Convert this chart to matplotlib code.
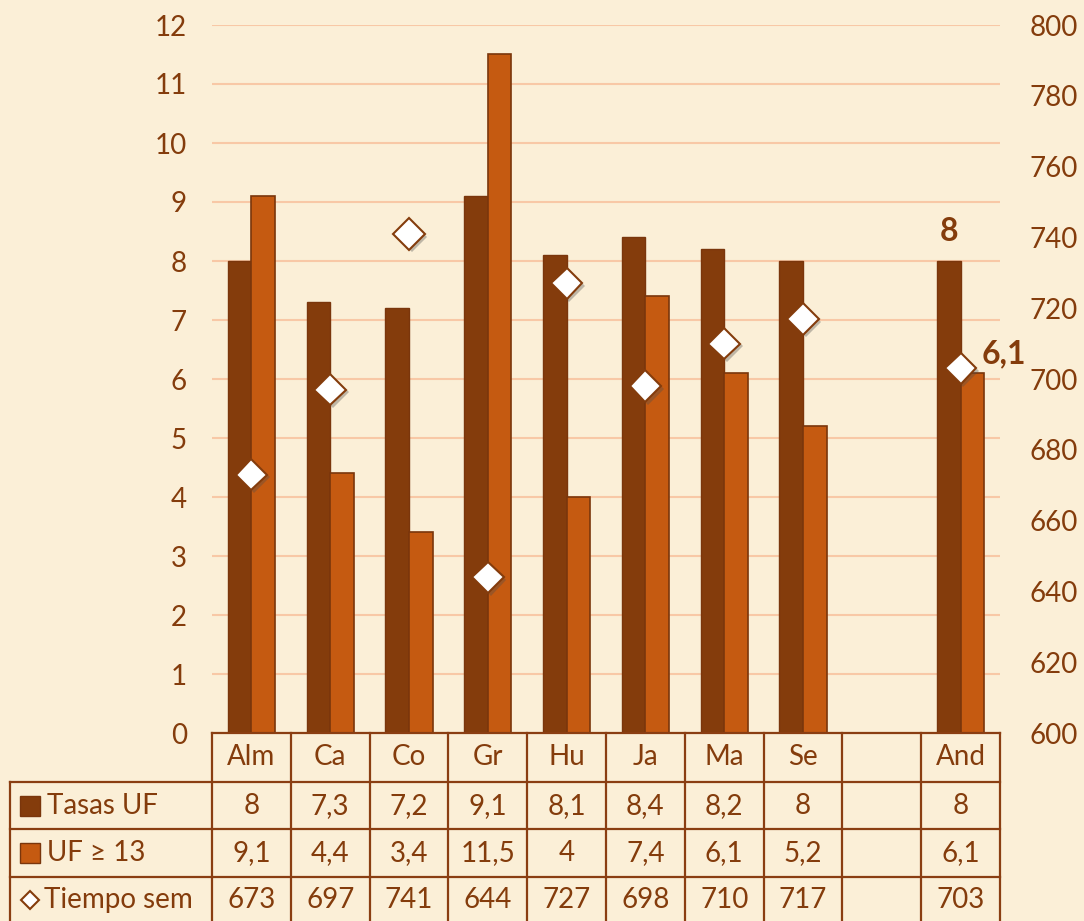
import numpy as np
import matplotlib.pyplot as plt
import matplotlib.patheffects as pe
from matplotlib import transforms
from matplotlib.lines import Line2D

plt.rcParams['font.family'] = ['Lato', 'DejaVu Sans']

# data
categories = ['Alm', 'Ca', 'Co', 'Gr', 'Hu', 'Ja', 'Ma', 'Se', '', 'And']
tasas_uf = [8, 7.3, 7.2, 9.1, 8.1, 8.4, 8.2, 8, np.nan, 8]
uf_13 = [9.1, 4.4, 3.4, 11.5, 4, 7.4, 6.1, 5.2, np.nan, 6.1]
tiempo_sem = [673, 697, 741, 644, 727, 698, 710, 717, np.nan, 703]
row_names = ['Tasas UF', 'UF ≥ 13', 'Tiempo sem']

dark = '#843C0C'
orange = '#C55A11'
edge = '#7A360C'
txt = '#843C0C'
grid_c = '#F8C8A6'
bg = '#FBEFD7'


def fmt(v):
    if np.isnan(v):
        return ''
    if float(v).is_integer():
        return str(int(v))
    return f'{v:.1f}'.replace('.', ',')


W, H = 1084, 921
fig = plt.figure(figsize=(W / 100, H / 100), dpi=100)
fig.patch.set_facecolor(bg)

ax = fig.add_axes([212 / W, 1 - 733 / H, 788 / W, 708 / H])
ax.set_facecolor('none')
ax2 = ax.twinx()

x = np.arange(len(categories))
ax.bar(x - 0.15, tasas_uf, width=0.3, color=dark, edgecolor=edge, linewidth=1, zorder=3)
ax.bar(x + 0.15, uf_13, width=0.3, color=orange, edgecolor=edge, linewidth=1.2, zorder=3)

ax2.plot(x, tiempo_sem, linestyle='none', marker='D', markersize=16,
         markerfacecolor='white', markeredgecolor=dark, markeredgewidth=1.5,
         path_effects=[pe.SimplePatchShadow(offset=(2, -2), alpha=0.35), pe.Normal()])

ax.set_xlim(-0.5, len(categories) - 0.5)
ax.set_ylim(0, 12)
ax.set_yticks(range(0, 13))
ax2.set_ylim(600, 800)
ax2.set_yticks(range(600, 801, 20))
ax.set_xticks([])

ax.yaxis.grid(True, color=grid_c, linewidth=1.5)
ax.set_axisbelow(True)
for a in (ax, ax2):
    for s in a.spines.values():
        s.set_visible(False)
ax.tick_params(axis='y', length=0, pad=18, labelsize=20, labelcolor=txt)
ax2.tick_params(axis='y', length=0, pad=21, labelsize=20, labelcolor=txt)

# data labels on And
ax.annotate(fmt(tasas_uf[-1]), xy=(x[-1] - 0.15, tasas_uf[-1]), xytext=(0, 11),
            textcoords='offset points', ha='center', va='bottom',
            fontsize=23, fontweight='bold', color=txt)
ax.annotate(fmt(uf_13[-1]), xy=(x[-1] + 0.15, uf_13[-1]), xytext=(23, 14),
            textcoords='offset points', ha='center', va='center',
            fontsize=23, fontweight='bold', color=txt)

# data table
bt = transforms.blended_transform_factory(ax.transData, fig.transFigure)
ft = fig.transFigure
lc = '#8A3E12'
lw = 1.6


def fy(p):
    return 1 - p / H


row_lines = [733, 782, 829, 877, 921]
left = 10 / W
xl, xr = -0.5, len(categories) - 0.5
fs = 20
# horizontal lines
fig.add_artist(Line2D([xl, xr], [fy(733)] * 2, transform=bt, color=lc, lw=lw))
for yy in row_lines[1:-1]:
    fig.add_artist(Line2D([left, 212 / W], [fy(yy)] * 2, transform=ft, color=lc, lw=lw))
    fig.add_artist(Line2D([xl, xr], [fy(yy)] * 2, transform=bt, color=lc, lw=lw))
# vertical lines
for b in np.arange(len(categories) + 1) - 0.5:
    fig.add_artist(Line2D([b, b], [fy(733), fy(921)], transform=bt, color=lc, lw=lw))
fig.add_artist(Line2D([left, left], [fy(782), fy(921)], transform=ft, color=lc, lw=lw))

row_c = [757, 806, 853, 900]
for i, c in enumerate(categories):
    fig.text(x[i], fy(row_c[0]), c, transform=bt, ha='center', va='center',
             fontsize=fs, color=txt)
for r, vals in enumerate([tasas_uf, uf_13, tiempo_sem]):
    yc = fy(row_c[r + 1])
    for i, v in enumerate(vals):
        fig.text(x[i], yc, fmt(v), transform=bt, ha='center', va='center',
                 fontsize=fs, color=txt)
    fig.text((47 if r < 2 else 44) / W, yc, row_names[r], transform=ft, ha='left',
             va='center', fontsize=fs, color=txt)

keys = [dict(marker='s', markersize=14, markerfacecolor=dark, markeredgecolor=edge),
        dict(marker='s', markersize=14, markerfacecolor=orange, markeredgecolor=edge),
        dict(marker='D', markersize=9, markerfacecolor='white', markeredgecolor=dark,
             markeredgewidth=1.5)]
for r, k in enumerate(keys):
    fig.add_artist(Line2D([30 / W], [fy(row_c[r + 1])], transform=ft, linestyle='none', **k))

fig.savefig('out.png', dpi=100, facecolor=bg)
